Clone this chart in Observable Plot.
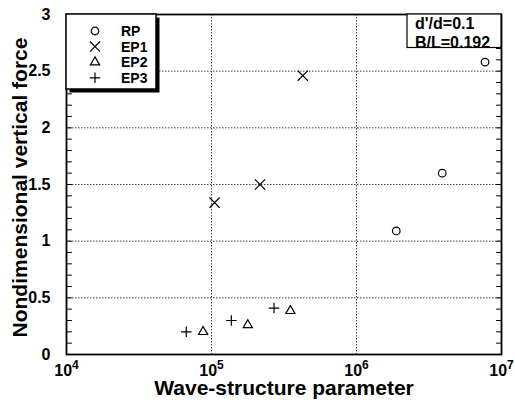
<!DOCTYPE html>
<html>
<head>
<meta charset="utf-8">
<script src="https://cdn.jsdelivr.net/npm/d3@7"></script>
<script src="https://cdn.jsdelivr.net/npm/@observablehq/plot@0.6"></script>
<style>
  html, body { margin: 0; padding: 0; background: #fff; }
  #chart svg { display: block; }
</style>
</head>
<body>
<div id="chart"></div>
<script>
// ---- data ----
const seriesNames = ["RP", "EP1", "EP2", "EP3"];
const rpX  = [1.88e6, 3.9e6, 7.7e6];
const rpY  = [1.09, 1.60, 2.58];
const ep1X = [1.05e5, 2.16e5, 4.26e5];
const ep1Y = [1.34, 1.50, 2.46];
const ep2X = [8.75e4, 1.78e5, 3.5e5];
const ep2Y = [0.20, 0.26, 0.385];
const ep3X = [6.7e4, 1.37e5, 2.7e5];
const ep3Y = [0.20, 0.30, 0.41];
const xTicks = [1e4, 1e5, 1e6, 1e7];
const yTicks = [0, 0.5, 1, 1.5, 2, 2.5, 3];
const yMinorTicks = d3.range(0, 31).map(i => i / 10);
const xTitle = "Wave-structure parameter";
const yTitle = "Nondimensional vertical force";
const noteLines = ["d'/d=0.1", "B/L=0.192"];

const toRows = (xs, ys) => xs.map((x, i) => ({x, y: ys[i]}));
const rp = toRows(rpX, rpY), ep1 = toRows(ep1X, ep1Y), ep2 = toRows(ep2X, ep2Y), ep3 = toRows(ep3X, ep3Y);

const sym = {
  RP:  {symbol: "circle",   r: 3.8},
  EP1: {symbol: "times",    r: 4.7},
  EP2: {symbol: "triangle", r: 3.4},
  EP3: {symbol: "plus",     r: 3.5}
};
const d3sym = {circle: d3.symbolCircle, times: d3.symbolTimes, triangle: d3.symbolTriangle, plus: d3.symbolPlus};

const dotOpts = name => ({x: "x", y: "y", symbol: sym[name].symbol, r: sym[name].r, stroke: "black", fill: "none", strokeWidth: 1.2});
const gridStyle = {stroke: "#444", strokeOpacity: 1, strokeWidth: 1, strokeDasharray: "1.5,1.5"};
const tickShape = {draw(context, l) { context.moveTo(0, 0); context.lineTo(0, -l); }};

const chart = Plot.plot({
  width: 515,
  height: 404,
  marginLeft: 66,
  marginRight: 14,
  marginTop: 14,
  marginBottom: 50,
  style: {fontFamily: "Arial, 'Liberation Sans', sans-serif", fontWeight: "bold", fontSize: "16px", background: "white", color: "black"},
  x: {type: "log", domain: [1e4, 1e7]},
  y: {domain: [0, 3]},
  marks: [
    Plot.gridX(xTicks.slice(1, -1), gridStyle),
    Plot.gridY(yTicks.slice(1, -1), gridStyle),
    Plot.vector(yMinorTicks, {y: d => d, frameAnchor: "left", length: 5, rotate: 90, anchor: "start", shape: tickShape, stroke: "black", strokeWidth: 1}),
    Plot.vector(yMinorTicks, {y: d => d, frameAnchor: "right", length: 5, rotate: -90, anchor: "start", shape: tickShape, stroke: "black", strokeWidth: 1}),
    Plot.axisY(yTicks, {anchor: "left", tickSize: 0, tickPadding: 16, label: null, fontSize: 16, fontWeight: "bold", tickFormat: d => String(d)}),
    Plot.axisX(xTicks, {anchor: "bottom", tickSize: 0, tickPadding: 10, label: null, fontSize: 16, fontWeight: "bold",
      tickFormat: d => "10^" + Math.round(Math.log10(d))}),
    Plot.frame({stroke: "black", strokeWidth: 1.8}),
    Plot.dot(rp, dotOpts("RP")),
    Plot.dot(ep1, dotOpts("EP1")),
    Plot.dot(ep2, dotOpts("EP2")),
    Plot.dot(ep3, dotOpts("EP3")),
    Plot.text([xTitle], {text: d => d, frameAnchor: "bottom", dy: 40, lineAnchor: "bottom", fontSize: 21, fontWeight: "bold"}),
    Plot.text([yTitle], {text: d => d, frameAnchor: "left", dx: -40, dy: 3, rotate: -90, textAnchor: "middle", lineAnchor: "bottom", fontSize: 21, fontWeight: "bold"})
  ]
});

const svg = d3.select(chart);

// superscript exponents on x tick labels
svg.selectAll("g[aria-label='x-axis tick label'] text").each(function() {
  const t = d3.select(this);
  const s = t.text();
  if (s.includes("^")) {
    const [base, exp] = s.split("^");
    t.text(base);
    t.append("tspan").attr("dy", "-0.6em").attr("font-size", 12).text(exp);
  }
});

// legend (top-left, with drop shadow)
const lg = svg.append("g").attr("font-size", 14).attr("font-weight", "bold").attr("text-anchor", "start");
lg.append("rect").attr("x", 69.5).attr("y", 17.5).attr("width", 90).attr("height", 75).attr("fill", "black");
lg.append("rect").attr("x", 66).attr("y", 14).attr("width", 90).attr("height", 75).attr("fill", "white").attr("stroke", "black").attr("stroke-width", 1.5);
seriesNames.forEach((name, i) => {
  const cy = 31 + i * 15.6;
  const s = sym[name];
  lg.append("path")
    .attr("transform", `translate(95,${cy})`)
    .attr("d", d3.symbol(d3sym[s.symbol], Math.PI * s.r * s.r)())
    .attr("fill", "none").attr("stroke", "black").attr("stroke-width", 1.2);
  lg.append("text").attr("x", 121).attr("y", cy).attr("dy", "0.35em").text(name);
});

// annotation box (top-right)
const nb = svg.append("g").attr("font-size", 16).attr("font-weight", "bold").attr("text-anchor", "start");
nb.append("rect").attr("x", 407).attr("y", 14).attr("width", 94).attr("height", 33.5).attr("fill", "white").attr("stroke", "black").attr("stroke-width", 1.2);
noteLines.forEach((line, i) => {
  nb.append("text").attr("x", 415).attr("y", 29 + i * 18.5).text(line);
});

document.getElementById("chart").appendChild(chart);
</script>
</body>
</html>
